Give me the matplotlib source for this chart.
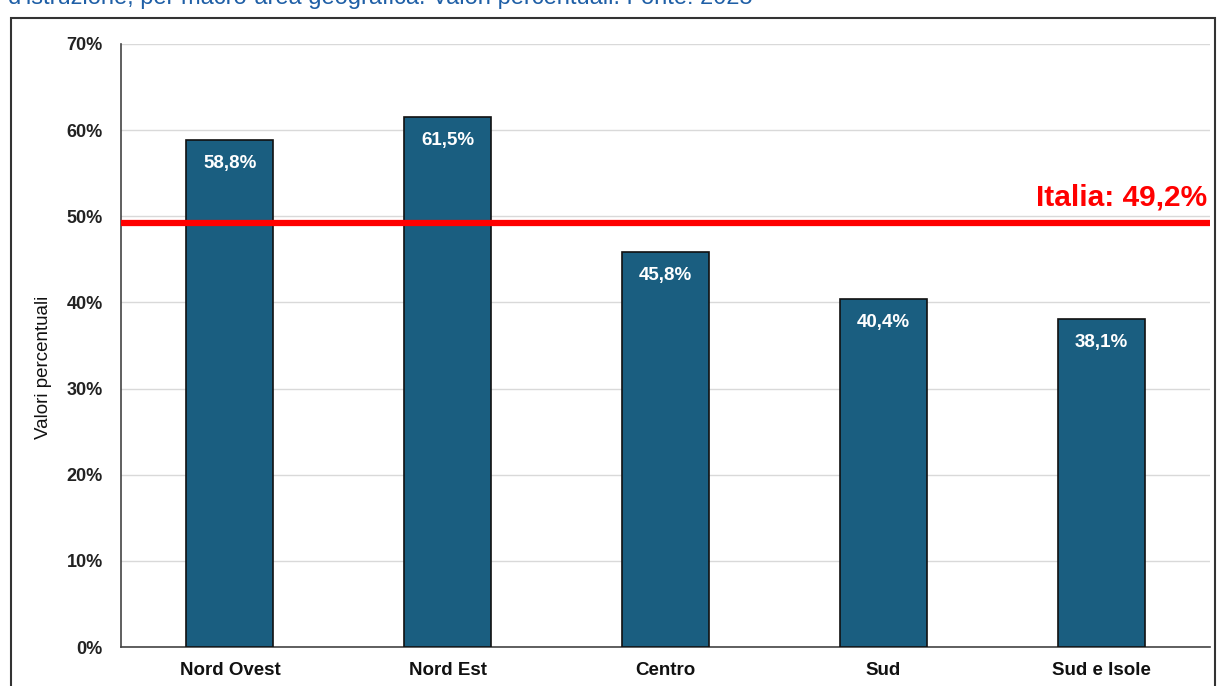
import matplotlib.pyplot as plt
import matplotlib.patches as patches
import numpy as np

plt.rcParams['font.family'] = ['Liberation Sans', 'DejaVu Sans']

categorie = ["Nord Ovest", "Nord Est", "Centro", "Sud", "Sud e Isole"]
valori = [58.8, 61.5, 45.8, 40.4, 38.1]
italia = 49.2
yticks = [0, 10, 20, 30, 40, 50, 60, 70]

fig = plt.figure(figsize=(12.27, 6.86), dpi=100)
W, H = 1227, 686
ax = fig.add_axes([121 / W, 1 - 647 / H, (1210 - 121) / W, (647 - 44) / H])

x = np.arange(len(categorie))
ax.bar(x, valori, width=0.4, color='#1a5e80', edgecolor='#111111', linewidth=1.2, zorder=3)

for xi, v in zip(x, valori):
    ax.text(xi, v - 2.7, f"{v:.1f}%".replace('.', ','), ha='center', va='center',
            color='white', fontsize=13.5, fontweight='bold', zorder=4)

ax.axhline(italia, color='#ff0000', linewidth=4.5, zorder=5)
ax.text(len(categorie) - 0.515, italia + 2.0, f"Italia: {italia:.1f}%".replace('.', ','),
        ha='right', va='baseline', color='#ff0000', fontsize=21.5, fontweight='bold')

ax.set_xlim(-0.5, len(categorie) - 0.5)
ax.set_ylim(0, 70)
ax.set_yticks(yticks)
ax.set_yticklabels([f"{t}%" for t in yticks], fontsize=13, fontweight='bold', color='#222222')
ax.set_xticks(x)
ax.set_xticklabels(categorie, fontsize=13.5, fontweight='bold', color='#111111')
ax.tick_params(axis='y', length=0, pad=13)
ax.tick_params(axis='x', length=0, pad=11)
ax.grid(axis='y', color='#d9d9d9', linewidth=1, zorder=0)
for s in ['top', 'right']:
    ax.spines[s].set_visible(False)
for s in ['left', 'bottom']:
    ax.spines[s].set_color('#444444')
    ax.spines[s].set_linewidth(1.2)
ax.set_ylabel("Valori percentuali", fontsize=13.5, color='#111111')
ax.yaxis.set_label_coords(-0.063, 0.463)

# chart border box
fig.patches.append(patches.Rectangle((11 / W, -0.05), (1215 - 11) / W, 1.05 - 18 / H,
                                     transform=fig.transFigure, fill=False,
                                     edgecolor='#333333', linewidth=1.5))

# cropped title
fig.text(8 / W, 1 - 4 / H, "d'istruzione, per macro-area geografica. Valori percentuali. Fonte: 2025",
         ha='left', va='baseline', fontsize=17, color='#1f5fa6')

fig.savefig("out.png", dpi=100)
